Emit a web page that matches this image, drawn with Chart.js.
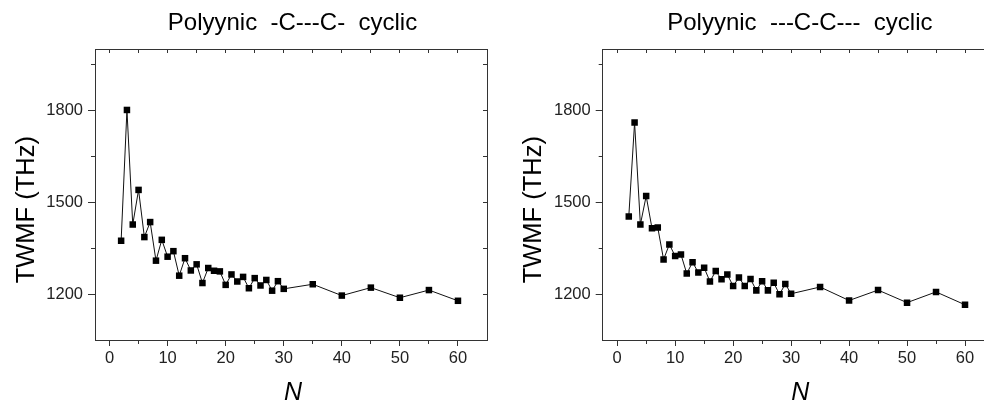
<!DOCTYPE html>
<html><head><meta charset="utf-8">
<script src="https://cdn.jsdelivr.net/npm/chart.js@4"></script>
<style>
html,body{margin:0;padding:0;background:#fff;overflow:hidden;width:984px;height:403px;}
canvas{position:absolute;top:0;}
#c1{left:0;}
#c2{left:500px;}
</style></head><body>
<canvas id="c1" width="492" height="403"></canvas>
<canvas id="c2" width="500" height="403"></canvas>
<script>
// ---- data ----
const nValues = [2,3,4,5,6,7,8,9,10,11,12,13,14,15,16,17,18,19,20,21,22,23,24,25,26,27,28,29,30,35,40,45,50,55,60];
const twmfLeft = [1374,1801,1427,1540,1386,1435,1309,1377,1322,1340,1260,1317,1277,1297,1236,1285,1276,1274,1230,1264,1241,1256,1219,1252,1228,1246,1211,1242,1217,1232,1195,1221,1188,1213,1178];
const twmfRight = [1453,1760,1427,1520,1415,1417,1313,1362,1324,1329,1267,1304,1270,1286,1241,1275,1248,1264,1226,1254,1226,1249,1212,1242,1212,1237,1199,1233,1201,1223,1179,1213,1172,1207,1165];
const titleLeft = 'Polyynic  -C---C-  cyclic';
const titleRight = 'Polyynic  ---C-C---  cyclic';
const yTitle = 'TWMF (THz)';
const xTitle = 'N';
const xMajorTicks = [0,10,20,30,40,50,60];
const xMinorTicks = [0,5,10,15,20,25,30,35,40,45,50,55,60];
const yMajorTicks = [1200,1500,1800];
const yMinorTicks = [1200,1350,1500,1650,1800,1950];
const xLimits = [-2.5, 65];
const yLimits = [1050, 2000];

const FONT = "'Liberation Sans', Arial, sans-serif";
const AXIS = '#333';

const textPlugin = {
  id: 'texts',
  afterDraw(chart, args, opts) {
    const {ctx, chartArea: a} = chart;
    const cx = (a.left + a.right) / 2;
    ctx.save();
    ctx.fillStyle = '#000';
    ctx.textAlign = 'center';
    ctx.textBaseline = 'alphabetic';
    ctx.font = '24px ' + FONT;
    ctx.fillText(opts.title, cx + 1.5, 30);
    ctx.font = 'italic 25px ' + FONT;
    ctx.fillText(xTitle, cx + 2, 400);
    ctx.translate(a.left - 61.5, 209.7);
    ctx.rotate(-Math.PI / 2);
    ctx.font = '25.5px ' + FONT;
    ctx.fillText(yTitle, 0, 0);
    ctx.restore();
  }
};

function grid(len) {
  return {drawOnChartArea: false, drawTicks: true, tickLength: len, color: AXIS, tickColor: AXIS, tickWidth: 1, lineWidth: 1};
}
function setTicks(arr) {
  return (s) => { s.ticks = arr.map(v => ({value: v})); };
}

function makeChart(id, vals, title, leftW, rightW) {
  return new Chart(document.getElementById(id), {
    type: 'line',
    data: {datasets: [{
      data: nValues.map((n, i) => ({x: n, y: vals[i]})),
      borderColor: '#111', borderWidth: 1, tension: 0, fill: false,
      pointStyle: 'rect', pointRadius: 4.6, pointHoverRadius: 4.6,
      pointBackgroundColor: '#000', pointBorderColor: '#000', pointBorderWidth: 0,
      xAxisID: 'x', yAxisID: 'y'
    }]},
    options: {
      responsive: false, animation: false, devicePixelRatio: 1, events: [],
      layout: {padding: {top: 49, left: 0, right: 0, bottom: 0}},
      plugins: {legend: {display: false}, tooltip: {enabled: false}, title: {display: false}, texts: {title: title}},
      scales: {
        x: {type: 'linear', position: 'bottom', weight: 1, min: xLimits[0], max: xLimits[1],
            afterBuildTicks: setTicks(xMajorTicks), afterFit: s => { s.height = 63; },
            grid: grid(6), border: {display: true, color: AXIS, width: 1},
            ticks: {color: '#222', font: {family: FONT, size: 16.5}, padding: 3, maxRotation: 0, autoSkip: false, callback: v => String(v)}},
        xm: {type: 'linear', position: 'bottom', weight: 0, min: xLimits[0], max: xLimits[1],
            afterBuildTicks: setTicks(xMinorTicks), afterFit: s => { s.height = 0; },
            grid: grid(4), border: {display: false}, ticks: {display: false}},
        x2: {type: 'linear', position: 'top', min: xLimits[0], max: xLimits[1],
            afterBuildTicks: setTicks(xMinorTicks), afterFit: s => { s.height = 0; },
            grid: grid(-4), border: {display: true, color: AXIS, width: 1}, ticks: {display: false}},
        y: {type: 'linear', position: 'left', weight: 1, min: yLimits[0], max: yLimits[1],
            afterBuildTicks: setTicks(yMajorTicks), afterFit: s => { s.width = leftW; },
            grid: grid(7), border: {display: true, color: AXIS, width: 1},
            ticks: {color: '#222', font: {family: FONT, size: 16.5}, padding: 5, autoSkip: false, callback: v => String(v)}},
        ym: {type: 'linear', position: 'left', weight: 0, min: yLimits[0], max: yLimits[1],
            afterBuildTicks: setTicks(yMinorTicks), afterFit: s => { s.width = 0; },
            grid: grid(4), border: {display: false}, ticks: {display: false}},
        y2: {type: 'linear', position: 'right', min: yLimits[0], max: yLimits[1],
            afterBuildTicks: setTicks(yMinorTicks), afterFit: s => { s.width = rightW; },
            grid: grid(-4), border: {display: true, color: AXIS, width: 1}, ticks: {display: false}}
      }
    },
    plugins: [textPlugin]
  });
}

makeChart('c1', twmfLeft, titleLeft, 95, 5);
makeChart('c2', twmfRight, titleRight, 102.7, 6);
</script>
</body></html>
